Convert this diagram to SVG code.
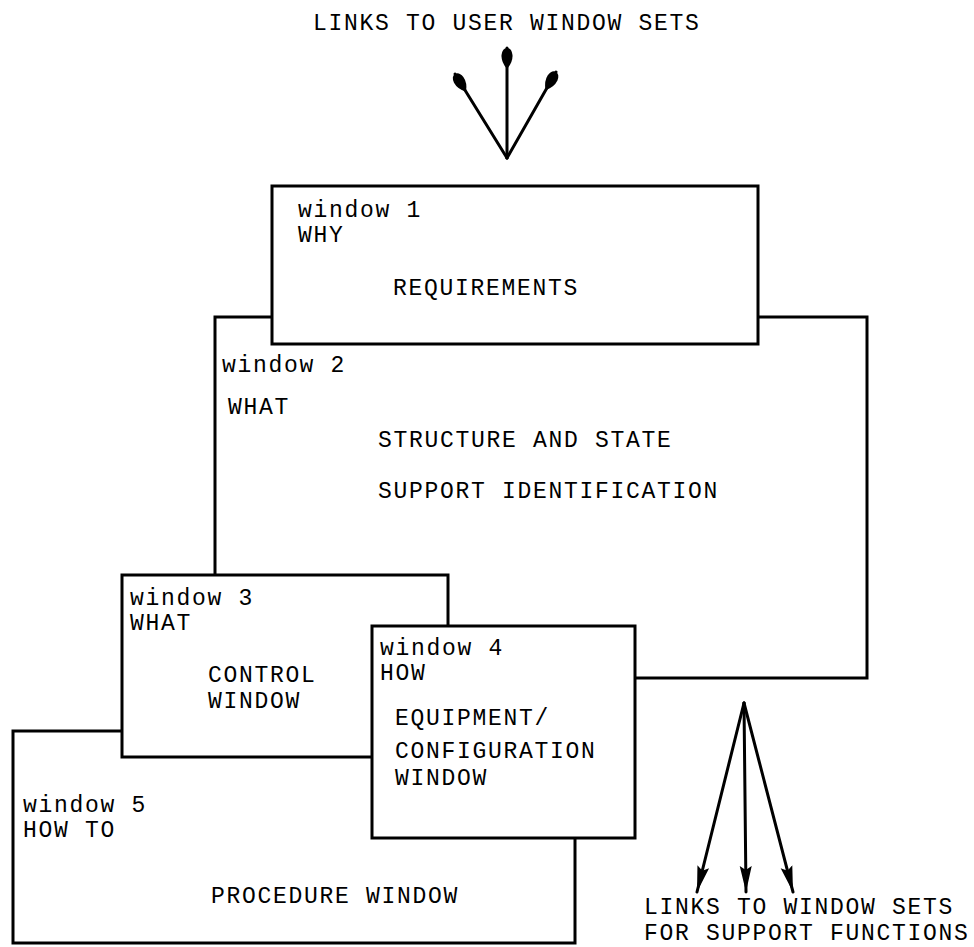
<svg xmlns="http://www.w3.org/2000/svg" width="974" height="947" viewBox="0 0 974 947">
<style>
.box{fill:#fff;stroke:#000;stroke-width:3;stroke-linejoin:miter}
.t{font-family:"Liberation Mono","DejaVu Sans Mono",monospace;font-size:23px;letter-spacing:1.7px;fill:#000}
.ln{fill:none;stroke:#000;stroke-width:3;stroke-linecap:round}
</style>
<defs>
<marker id="tear" markerUnits="userSpaceOnUse" markerWidth="26" markerHeight="16" refX="22" refY="8" orient="auto">
<path d="M1,8 Q8,2 15,2.5 Q22,3.5 22,8 Q22,12.5 15,13.5 Q8,14 1,8 Z" fill="#000"/>
</marker>
<marker id="tri" markerUnits="userSpaceOnUse" markerWidth="28" markerHeight="16" refX="26" refY="8" orient="auto">
<path d="M0,2 L26,8 L0,14 L4,8 Z" fill="#000"/>
</marker>
</defs>
<text class="t" x="313" y="30">LINKS TO USER WINDOW SETS</text>
<g id="connectors">
<line class="ln" x1="507" y1="158" x2="455" y2="74" marker-end="url(#tear)"/>
<line class="ln" x1="507" y1="158" x2="507" y2="48" marker-end="url(#tear)"/>
<line class="ln" x1="507" y1="158" x2="556" y2="72" marker-end="url(#tear)"/>
<line class="ln" x1="744" y1="703" x2="697" y2="892" marker-end="url(#tri)"/>
<line class="ln" x1="744" y1="703" x2="746" y2="892" marker-end="url(#tri)"/>
<line class="ln" x1="744" y1="703" x2="793" y2="892" marker-end="url(#tri)"/>
</g>
<g id="window2">
<rect class="box" x="215" y="317" width="652" height="361"/>
<text class="t" x="222" y="372">window 2</text>
<text class="t" x="228" y="414">WHAT</text>
<text class="t" x="378" y="447">STRUCTURE AND STATE</text>
<text class="t" x="378" y="498">SUPPORT IDENTIFICATION</text>
</g>
<g id="window1">
<rect class="box" x="272" y="186" width="486" height="158"/>
<text class="t" x="298" y="217">window 1</text>
<text class="t" x="298" y="242">WHY</text>
<text class="t" x="393" y="295">REQUIREMENTS</text>
</g>
<g id="window5">
<rect class="box" x="13" y="731" width="562" height="212"/>
<text class="t" x="23" y="812">window 5</text>
<text class="t" x="23" y="837">HOW TO</text>
<text class="t" x="211" y="903">PROCEDURE WINDOW</text>
</g>
<g id="window3">
<rect class="box" x="122" y="575" width="326" height="182"/>
<text class="t" x="130" y="605">window 3</text>
<text class="t" x="130" y="630">WHAT</text>
<text class="t" x="208" y="682">CONTROL</text>
<text class="t" x="208" y="708">WINDOW</text>
</g>
<g id="window4">
<rect class="box" x="372" y="626" width="263" height="212"/>
<text class="t" x="380" y="655">window 4</text>
<text class="t" x="380" y="680">HOW</text>
<text class="t" x="395" y="725">EQUIPMENT/</text>
<text class="t" x="395" y="758">CONFIGURATION</text>
<text class="t" x="395" y="785">WINDOW</text>
</g>
<g id="labels">
<text class="t" x="644" y="914">LINKS TO WINDOW SETS</text>
<text class="t" x="644" y="940">FOR SUPPORT FUNCTIONS</text>
</g>
</svg>
